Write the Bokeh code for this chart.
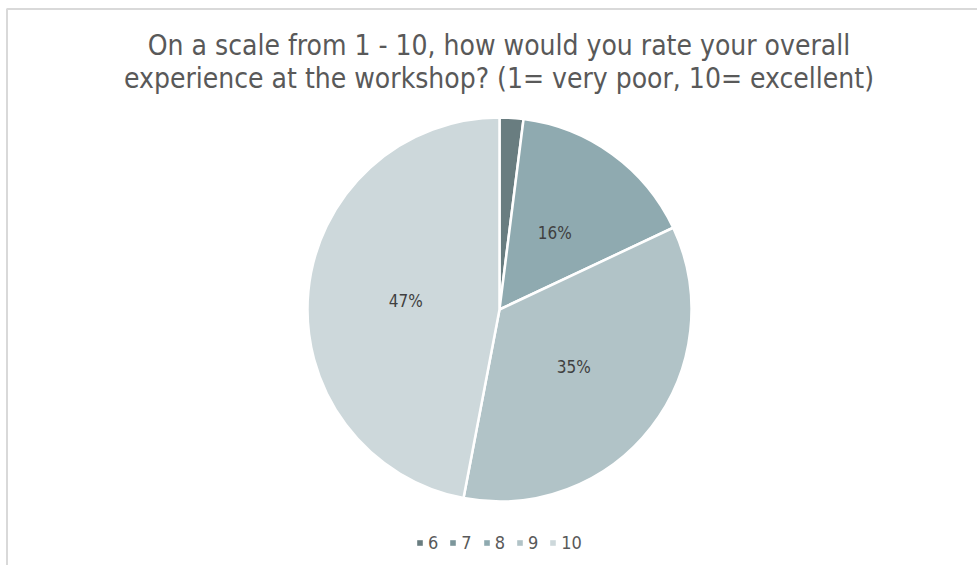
import math

from bokeh.embed import file_html
from bokeh.models import Label, Legend, LegendItem
from bokeh.plotting import figure
from bokeh.resources import INLINE

# Survey answers: share of respondents per rating (percent)
ratings = ["6", "7", "8", "9", "10"]
shares = [2, 0, 16, 35, 47]
colors = ["#697d80", "#7c969b", "#8faab0", "#b1c3c7", "#cdd8db"]
shown_labels = ["", "", "16%", "35%", "47%"]

title_lines = [
    "On a scale from 1 - 10, how would you rate your overall",
    "experience at the workshop? (1= very poor, 10= excellent)",
]

W, H = 977, 565
CX, CY, R = 499, H - 309, 192
FONT = "'Liberation Sans Narrow', 'DejaVu Sans Condensed', 'Liberation Sans', sans-serif"

p = figure(
    width=W, height=H, x_range=(0, W), y_range=(0, H),
    output_backend="svg", toolbar_location=None,
    min_border=0, outline_line_color=None,
)
p.axis.visible = False
p.grid.visible = False
p.background_fill_color = "white"
p.border_fill_color = "white"

# chart frame (top and left edges visible)
p.line(x=[6.5, 6.5, W + 5], y=[-5, H - 8.5, H - 8.5], line_color="#d9d9d9", line_width=2)

# pie slices, clockwise from 12 o'clock
total = float(sum(shares))
acc = 0.0
legend_items = []
for name, share, col, lab in zip(ratings, shares, colors, shown_labels):
    start = math.pi / 2 - 2 * math.pi * acc / total
    end = math.pi / 2 - 2 * math.pi * (acc + share) / total
    if share > 0:
        p.wedge(x=CX, y=CY, radius=R, start_angle=end, end_angle=start,
                fill_color=col, line_color="white", line_width=2.5)
    mid = (start + end) / 2
    if lab:
        p.add_layout(Label(
            x=CX + 0.49 * R * math.cos(mid), y=CY + 0.49 * R * math.sin(mid),
            text=lab, text_align="center", text_baseline="middle",
            text_font=FONT, text_font_size="17px", text_color="#404040",
        ))
    acc += share
    # legend key: an empty quad gives a filled square swatch
    key = p.quad(left=[float("nan")], right=[float("nan")],
                 bottom=[float("nan")], top=[float("nan")],
                 fill_color=col, line_color=None)
    legend_items.append(LegendItem(label=name, renderers=[key]))

legend = Legend(
    items=legend_items, orientation="horizontal", location=(416, 12),
    glyph_width=7, glyph_height=7, label_standoff=5, spacing=11,
    label_width=8, padding=0, margin=0, border_line_color=None,
    background_fill_alpha=0,
    label_text_font=FONT, label_text_font_size="18px",
    label_text_color="#595959", label_height=18,
)
p.add_layout(legend, "center")

# two-line title
for i, line in enumerate(title_lines):
    p.add_layout(Label(
        x=W / 2 + 10, y=H - 45 - 33 * i, text=line,
        text_align="center", text_baseline="alphabetic",
        text_font=FONT, text_font_size="28px", text_color="#595959",
    ))

open("out.html", "w").write(file_html(p, INLINE))
